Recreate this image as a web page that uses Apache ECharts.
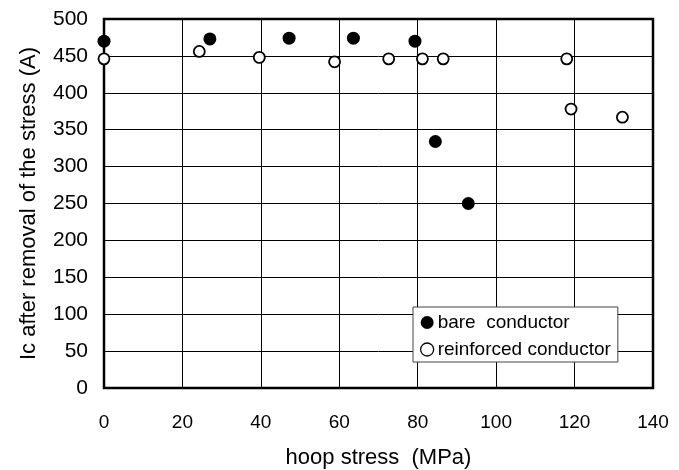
<!DOCTYPE html>
<html><head><meta charset="utf-8">
<script src="https://cdn.jsdelivr.net/npm/echarts@6/dist/echarts.min.js"></script>
<style>html,body{margin:0;padding:0;background:#fff}#c{width:679px;height:470px}</style>
</head><body><div id="c"></div>
<script>
const bareX = [0, 27, 47.2, 63.6, 79.3, 84.5, 92.9];
const bareY = [470, 473, 474, 474, 470, 334, 250];
const reinfX = [0, 24.3, 39.6, 58.8, 72.6, 81.2, 86.5, 118, 119.1, 132.2];
const reinfY = [446, 456, 448, 442, 446, 446, 446, 446, 378, 367];
const seriesNames = ['bare  conductor', 'reinforced conductor'];
const xTitle = 'hoop stress  (MPa)';
const yTitle = 'Ic after removal of the stress (A)';

const font = 'Liberation Sans, Arial, sans-serif';
const chart = echarts.init(document.getElementById('c'));
chart.setOption({
  animation: false,
  backgroundColor: '#fff',
  grid: {left: 104, right: 26, top: 19, bottom: 82, outerBoundsMode: 'none', containLabel: false,
         show: true, borderColor: '#000', borderWidth: 2.5, backgroundColor: 'transparent'},
  xAxis: {
    type: 'value', min: 0, max: 140, interval: 20,
    name: xTitle, nameLocation: 'middle', nameGap: 59,
    nameTextStyle: {fontFamily: font, fontSize: 22, color: '#000'},
    axisLine: {show: false}, axisTick: {show: false},
    axisLabel: {fontFamily: font, fontSize: 19, color: '#000', margin: 25},
    splitLine: {show: true, lineStyle: {color: '#000', width: 1}}
  },
  yAxis: {
    type: 'value', min: 0, max: 500, interval: 50,
    name: yTitle, nameLocation: 'middle', nameGap: 64, nameRotate: 90,
    nameTextStyle: {fontFamily: font, fontSize: 22, color: '#000'},
    axisLine: {show: false}, axisTick: {show: false},
    axisLabel: {fontFamily: font, fontSize: 21, color: '#000', margin: 16},
    splitLine: {show: true, lineStyle: {color: '#000', width: 1}}
  },
  legend: {
    left: 413, top: 307, orient: 'vertical',
    backgroundColor: '#fff', borderColor: '#444', borderWidth: 1,
    padding: [6, 7, 3, 7], itemGap: 8, itemWidth: 13, itemHeight: 13,
    textStyle: {fontFamily: font, fontSize: 19, color: '#000', padding: [0, 0, 0, -1]},
    data: [
      {name: seriesNames[0], icon: 'circle'},
      {name: seriesNames[1], icon: 'circle', itemStyle: {borderWidth: 1.3}}
    ]
  },
  series: [
    {
      name: seriesNames[0], type: 'scatter', symbol: 'circle', symbolSize: 13,
      itemStyle: {color: '#000', borderColor: '#000', borderWidth: 0, opacity: 1},
      data: bareX.map((x, i) => [x, bareY[i]]), z: 5
    },
    {
      name: seriesNames[1], type: 'scatter', symbol: 'circle', symbolSize: 11,
      itemStyle: {color: '#fff', borderColor: '#000', borderWidth: 1.8, opacity: 1},
      data: reinfX.map((x, i) => [x, reinfY[i]]), z: 4
    }
  ]
});
</script></body></html>
